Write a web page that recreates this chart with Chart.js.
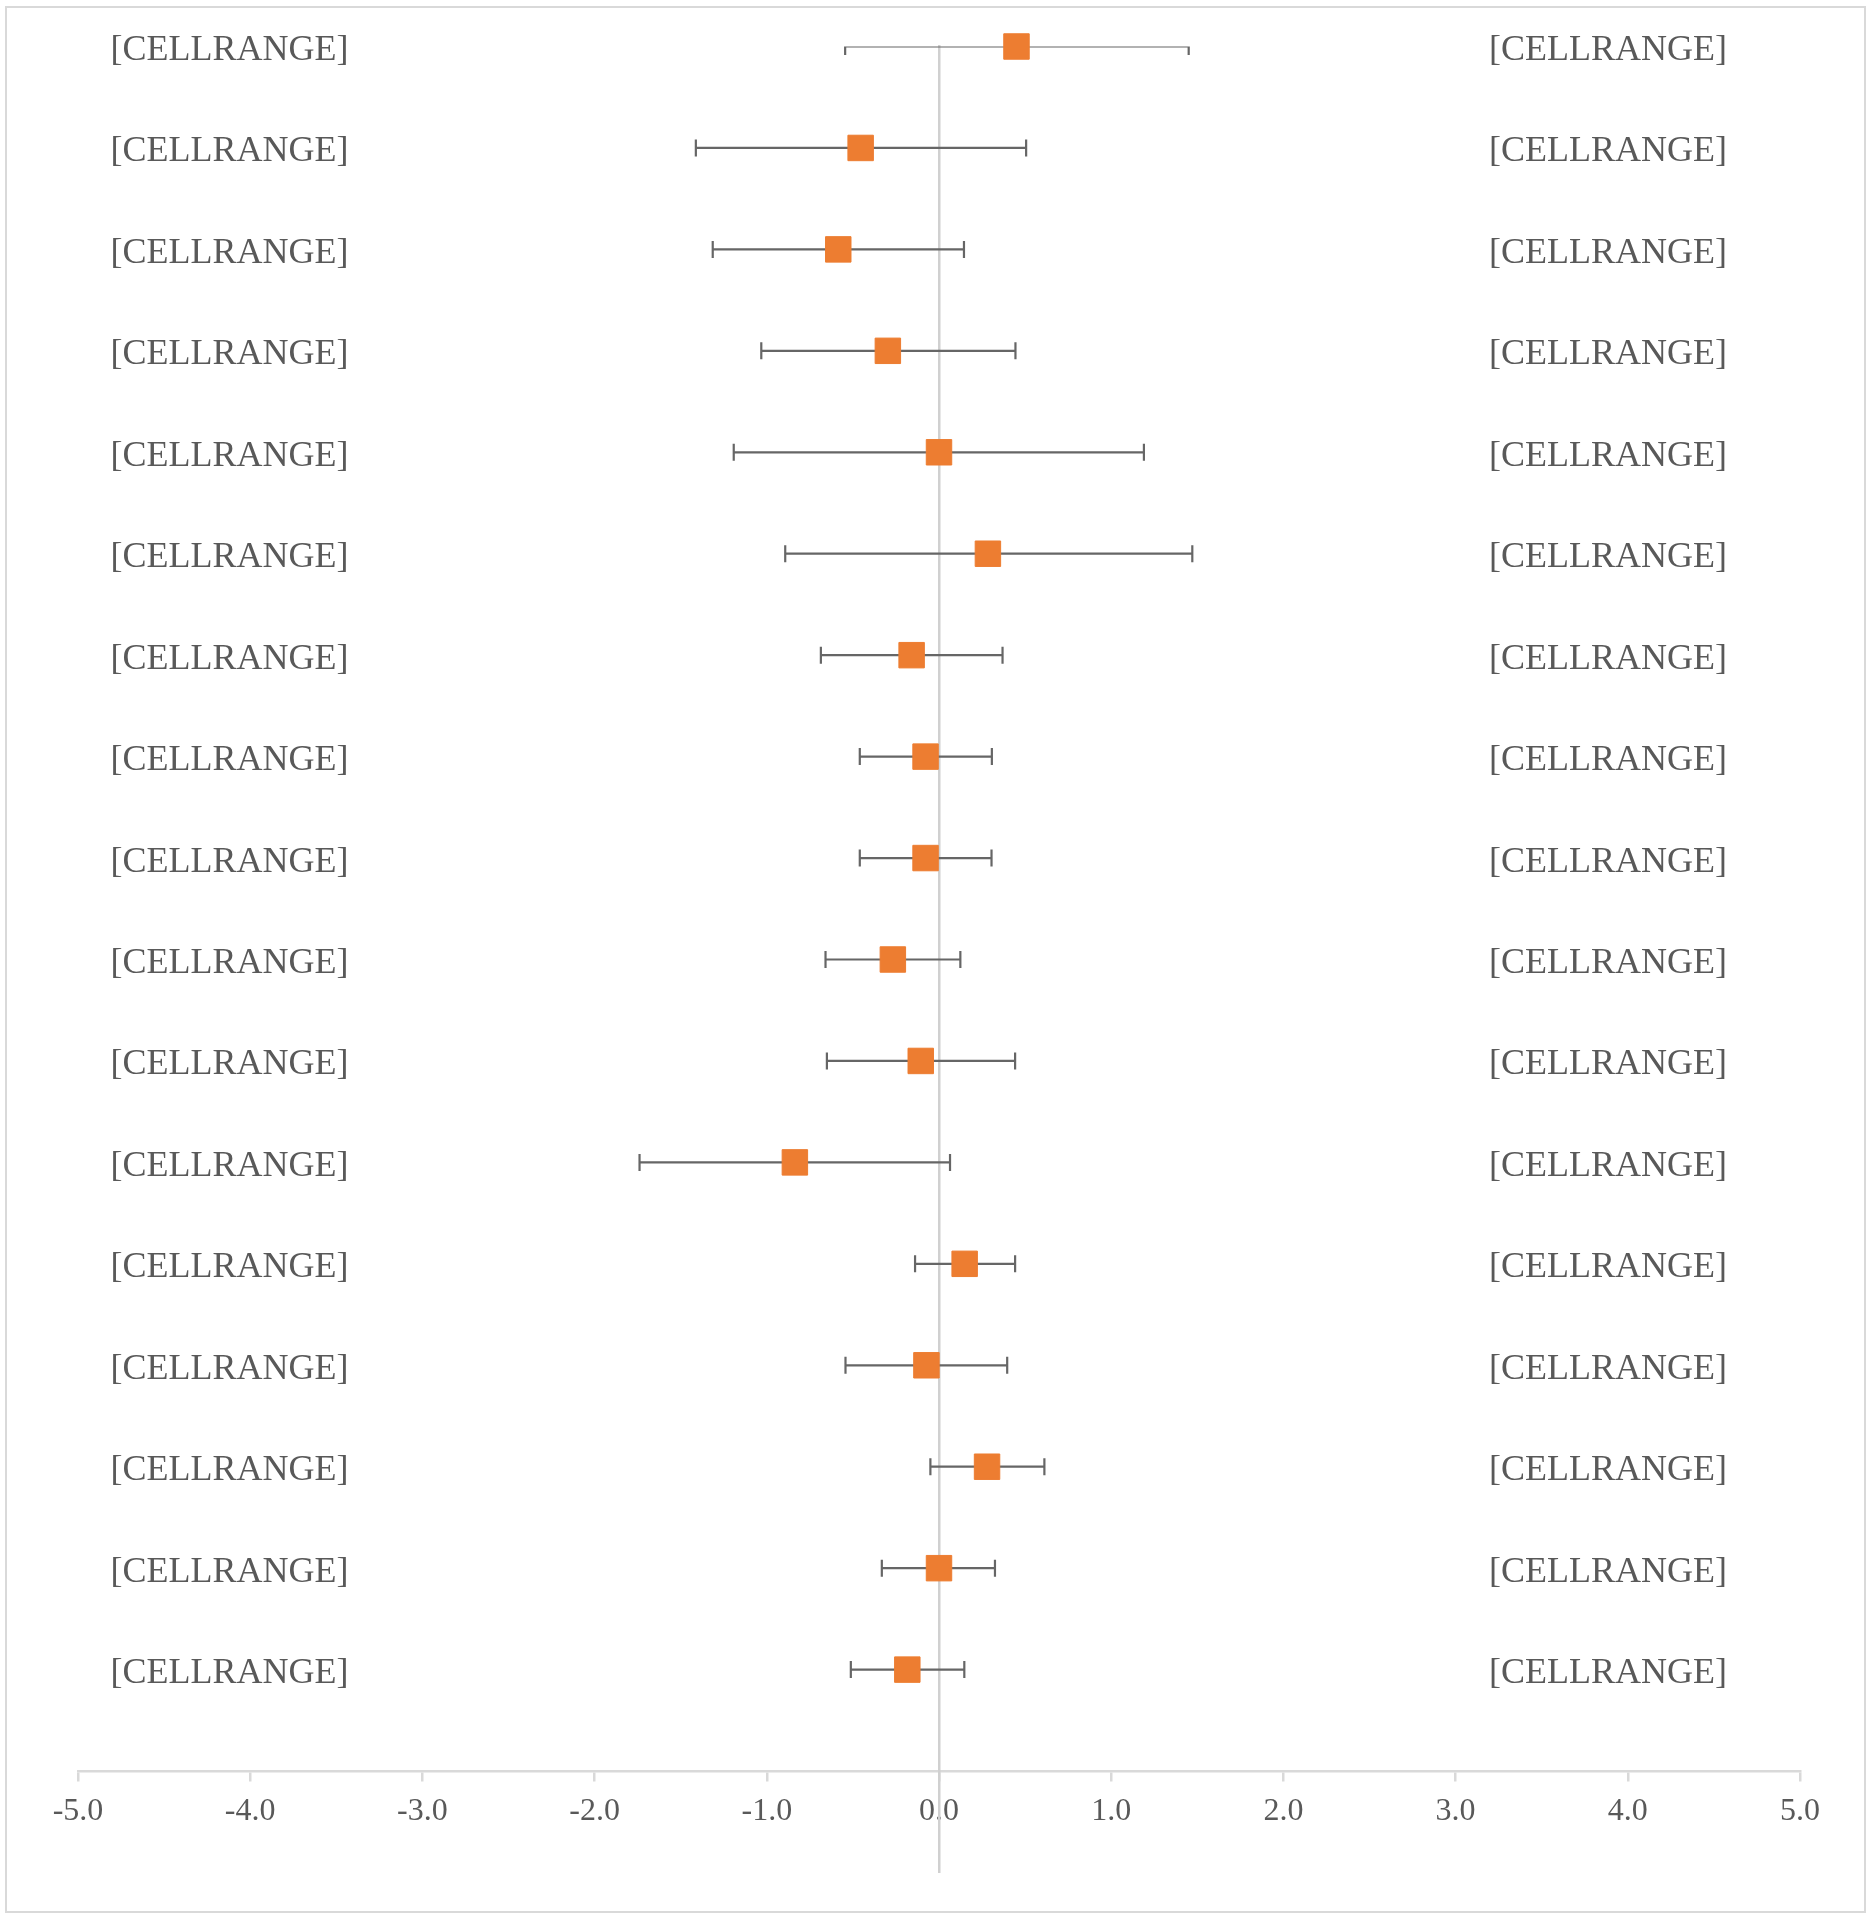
<!DOCTYPE html>
<html>
<head>
<meta charset="utf-8">
<script src="https://cdn.jsdelivr.net/npm/chart.js@4.4.1/dist/chart.umd.min.js"></script>
<style>
	html, body { margin: 0; padding: 0; background: #ffffff; }
	#wrap { position: absolute; left: 0; top: 0; width: 1873px; height: 1920px; }
	#frame { position: absolute; left: 5px; top: 6px; width: 1857px; height: 1903px; border: 2px solid #d9d9d9; pointer-events: none; }
</style>
</head>
<body>
<div id="wrap"><canvas id="myChart"></canvas></div>
<div id="frame"></div>
<script>
// rows from top (17) to bottom (1)
const rows = [17, 16, 15, 14, 13, 12, 11, 10, 9, 8, 7, 6, 5, 4, 3, 2, 1];
const estimates = [0.45, -0.455, -0.585, -0.297, 0.0, 0.284, -0.159, -0.078, -0.078, -0.268, -0.106, -0.837, 0.149, -0.073, 0.279, 0.0, -0.184];
const lowerCI = [-0.545, -1.412, -1.314, -1.032, -1.192, -0.893, -0.686, -0.46, -0.46, -0.659, -0.651, -1.739, -0.139, -0.543, -0.05, -0.332, -0.512];
const upperCI = [1.45, 0.506, 0.145, 0.444, 1.19, 1.471, 0.369, 0.307, 0.305, 0.124, 0.442, 0.064, 0.442, 0.396, 0.612, 0.325, 0.147];
const leftLabels = ["[CELLRANGE]", "[CELLRANGE]", "[CELLRANGE]", "[CELLRANGE]", "[CELLRANGE]", "[CELLRANGE]", "[CELLRANGE]", "[CELLRANGE]", "[CELLRANGE]", "[CELLRANGE]", "[CELLRANGE]", "[CELLRANGE]", "[CELLRANGE]", "[CELLRANGE]", "[CELLRANGE]", "[CELLRANGE]", "[CELLRANGE]"];
const rightLabels = ["[CELLRANGE]", "[CELLRANGE]", "[CELLRANGE]", "[CELLRANGE]", "[CELLRANGE]", "[CELLRANGE]", "[CELLRANGE]", "[CELLRANGE]", "[CELLRANGE]", "[CELLRANGE]", "[CELLRANGE]", "[CELLRANGE]", "[CELLRANGE]", "[CELLRANGE]", "[CELLRANGE]", "[CELLRANGE]", "[CELLRANGE]"];
const xTicks = [-5, -4, -3, -2, -1, 0, 1, 2, 3, 4, 5];

const LEFT_LABEL_X = -4.12;
const RIGHT_LABEL_X = 3.885;
const LABEL_SHIFT = 4; // serif glyphs sit a little high with "middle" baseline
const CAP = 8.5;

// horizontal error bars, clipped to the plot area like Excel does
const errorBars = {
	id: "errorBars",
	beforeDatasetsDraw(chart) {
		const { ctx, chartArea, scales: { x, y } } = chart;
		ctx.save();
		ctx.beginPath();
		ctx.rect(chartArea.left, chartArea.top, chartArea.right - chartArea.left, chartArea.bottom - chartArea.top);
		ctx.clip();
		ctx.strokeStyle = "#666666";
		ctx.lineWidth = 2.2;
		rows.forEach((r, i) => {
			const py = y.getPixelForValue(r);
			const x1 = x.getPixelForValue(lowerCI[i]);
			const x2 = x.getPixelForValue(upperCI[i]);
			ctx.beginPath();
			ctx.moveTo(x1, py);
			ctx.lineTo(x2, py);
			ctx.moveTo(x1, py - CAP);
			ctx.lineTo(x1, py + CAP);
			ctx.moveTo(x2, py - CAP);
			ctx.lineTo(x2, py + CAP);
			ctx.stroke();
		});
		ctx.restore();
	},
};

const rowLabels = {
	id: "rowLabels",
	afterDatasetsDraw(chart) {
		const { ctx, scales: { x, y } } = chart;
		ctx.save();
		ctx.font = "36px 'Liberation Serif'";
		ctx.fillStyle = "#595959";
		ctx.textAlign = "center";
		ctx.textBaseline = "middle";
		rows.forEach((r, i) => {
			const py = y.getPixelForValue(r) + LABEL_SHIFT;
			ctx.fillText(leftLabels[i], x.getPixelForValue(LEFT_LABEL_X), py);
			ctx.fillText(rightLabels[i], x.getPixelForValue(RIGHT_LABEL_X), py);
		});
		ctx.restore();
	},
};

const ctx = document.getElementById("myChart");

let myChart = new Chart(ctx, {
	type: "scatter",
	data: {
		datasets: [
			{
				label: "Estimate",
				data: rows.map((r, i) => ({ x: estimates[i], y: r })),
				pointStyle: "rect",
				pointRadius: 18,
				pointHoverRadius: 18,
				backgroundColor: "#ED7D31",
				borderColor: "#ED7D31",
				borderWidth: 1,
				clip: false,
			},
		],
	},
	options: {
		responsive: true,
		maintainAspectRatio: false,
		animation: false,
		layout: {
			padding: { left: 78, right: 73, top: 46.5, bottom: 47.5 },
		},
		plugins: {
			legend: { display: false },
			tooltip: { enabled: false },
		},
		scales: {
			x: {
				type: "linear",
				min: -5,
				max: 5,
				position: { y: 0 },
				afterBuildTicks: (axis) => {
					axis.ticks = xTicks.map((v) => ({ value: v }));
				},
				afterFit: (axis) => {
					axis.height = 0;
				},
				border: {
					color: "#d9d9d9",
					width: 2.5,
				},
				grid: {
					drawOnChartArea: false,
					drawTicks: true,
					tickLength: 9,
					color: "#d9d9d9",
					lineWidth: 2.5,
				},
				ticks: {
					color: "#595959",
					padding: 12,
					maxRotation: 0,
					font: {
						family: "'Liberation Serif'",
						size: 32,
					},
					callback: (value) => Number(value).toFixed(1),
				},
			},
			y: {
				type: "linear",
				min: -1,
				max: 17,
				position: { x: 0 },
				afterFit: (axis) => {
					axis.width = 0;
				},
				border: {
					color: "#d0d0d0",
					width: 2.5,
				},
				grid: {
					display: false,
					drawTicks: false,
				},
				ticks: {
					display: false,
				},
			},
		},
	},
	plugins: [errorBars, rowLabels],
});
</script>
</body>
</html>
